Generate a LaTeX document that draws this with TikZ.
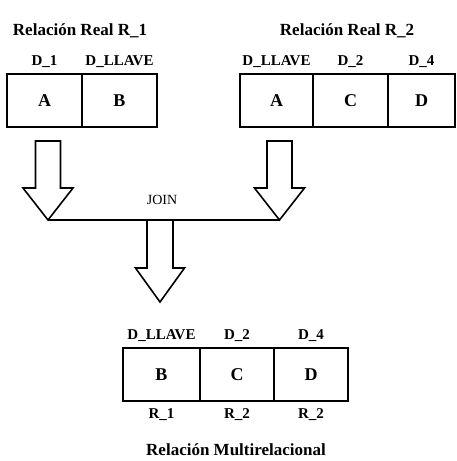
\documentclass[tikz,border=0pt]{standalone}
\usepackage{fontspec}
\setmainfont{Liberation Serif}
\usetikzlibrary{positioning}

\begin{document}
\begin{tikzpicture}[x=1pt, y=-1pt, line width=1.6pt,
    cell/.style={draw, rectangle, minimum height=53pt, inner sep=0pt, outer sep=0pt, font=\fontsize{18}{20}\selectfont\bfseries},
    lbl/.style={inner sep=0pt, font=\fontsize{15}{17}\selectfont\bfseries},
    titulo/.style={inner sep=0pt, font=\fontsize{17}{19}\selectfont\bfseries},
    flecha/.style={draw, line join=miter, fill=white}]
    \useasboundingbox (0,0) rectangle (457,461);

    % relacion real R_1
    \node[titulo] (t1) at (80,31) {Relación Real R\_1};
    \node[cell, minimum width=75pt] (r1a) at (44.5,100.5) {A};
    \node[cell, minimum width=75pt] (r1b) at (119.5,100.5) {B};
    \node[lbl] (r1d1) at (44.5,62) {D\_1};
    \node[lbl] (r1d2) at (119.5,62) {D\_LLAVE};

    % relacion real R_2
    \node[titulo] (t2) at (347,31) {Relación Real R\_2};
    \node[cell, minimum width=73pt] (r2a) at (276.5,100.5) {A};
    \node[cell, minimum width=75pt] (r2c) at (350.5,100.5) {C};
    \node[cell, minimum width=67pt] (r2d) at (421.5,100.5) {D};
    \node[lbl] (r2d1) at (276.5,62) {D\_LLAVE};
    \node[lbl] (r2d2) at (350.5,62) {D\_2};
    \node[lbl] (r2d3) at (421.5,62) {D\_4};

    % flechas al join
    \draw[flecha] (35.5,141) -- (60.5,141) -- (60.5,188) -- (73,188) -- (48,220) -- (23,188) -- (35.5,188) -- cycle;
    \draw[flecha] (267,141) -- (292,141) -- (292,188) -- (304.5,188) -- (279.5,220) -- (254.5,188) -- (267,188) -- cycle;
    \coordinate (p1) at (48,220);
    \coordinate (p2) at (279.5,220);
    \draw (p1) -- (p2);
    \node[lbl, font=\fontsize{14}{16}\selectfont] (join) at (162,200) {JOIN};
    \draw[flecha] (147,220) -- (173,220) -- (173,268) -- (184.5,268) -- (160,302) -- (135.5,268) -- (147,268) -- cycle;

    % relacion multirelacional
    \node[cell, minimum width=77pt] (rmb) at (161.5,374.5) {B};
    \node[cell, minimum width=74pt] (rmc) at (237,374.5) {C};
    \node[cell, minimum width=74pt] (rmd) at (311,374.5) {D};
    \node[lbl] (rmd1) at (161.5,336) {D\_LLAVE};
    \node[lbl] (rmd2) at (237,336) {D\_2};
    \node[lbl] (rmd3) at (311,336) {D\_4};
    \node[lbl] (rmr1) at (161.5,415) {R\_1};
    \node[lbl] (rmr2) at (237,415) {R\_2};
    \node[lbl] (rmr3) at (311,415) {R\_2};
    \node[titulo] (t3) at (236,450) {Relación Multirelacional};
\end{tikzpicture}
\end{document}
